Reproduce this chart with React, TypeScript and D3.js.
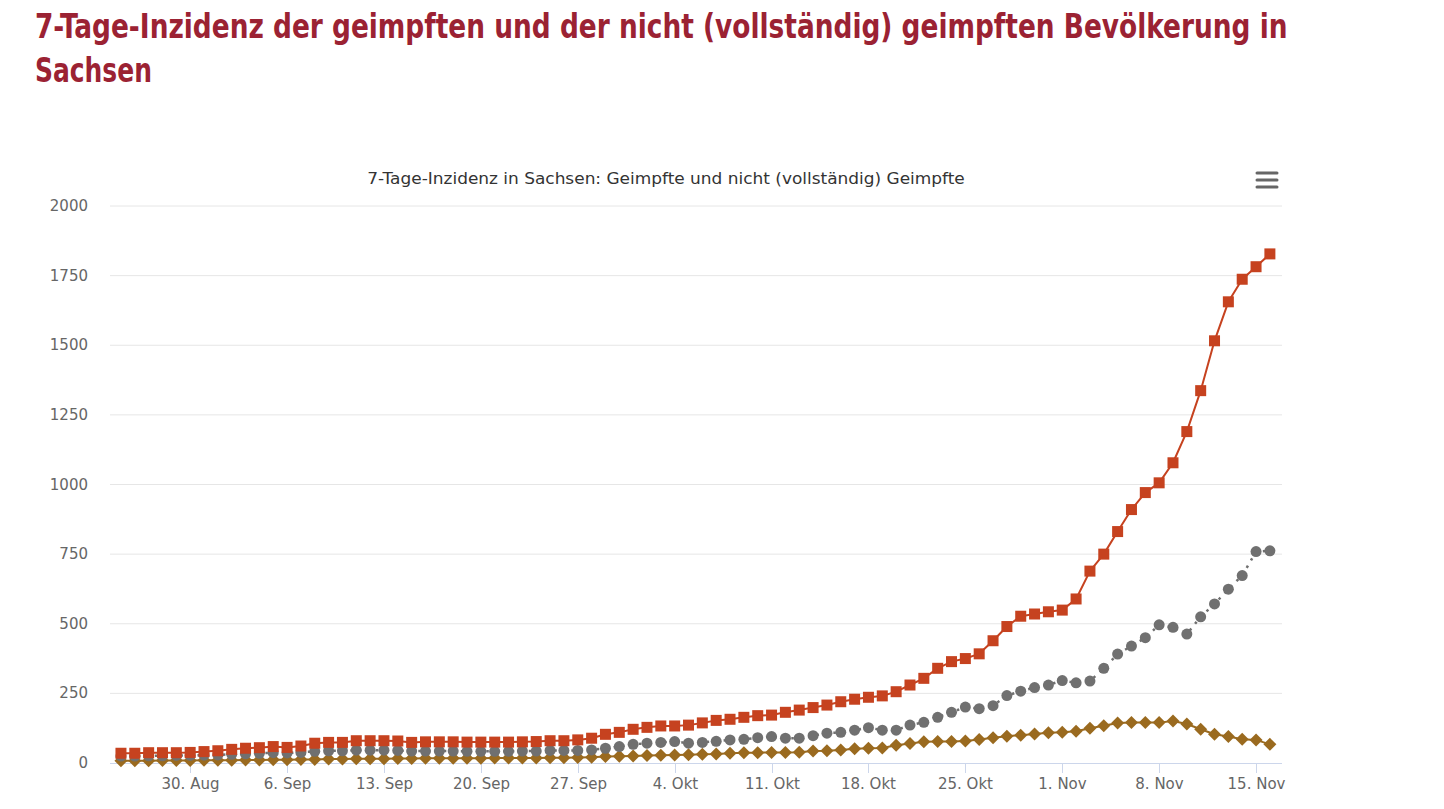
import React, { useLayoutEffect, useRef, useState } from "react";
import * as d3 from "d3";

// ---------- data ----------
const firstDay = "2021-08-25";
const dayCount = 84;

// 7-Tage-Inzidenz nicht (vollständig) geimpft (squares)
const ungeimpft = [35,35,37,37,37,38,41,44,49,53,55,59,56,61,71,74,74,80,80,80,79,
  74,76,76,76,75,75,75,75,76,77,
  80,80,83,89,103,110,121,128,133,133,136,
  144,153,157,164,170,172,182,190,199,208,220,229,236,241,256,280,304,340,364,375,392,439,490,527,535,543,549,589,
  689,750,831,910,971,1006,1078,1190,1337,1516,1656,1737,1782,1828];

// 7-Tage-Inzidenz gesamt (circles, dotted)
const gesamt = [25,25,26,26,27,27,28,29,31,
  33,35,37,36,38,
  42,44,44,46,46,46,45,43,
  43,43,43,42,42,42,42,43,43,45,45,45,
  47,53,59,67,71,74,77,71,74,78,
  83,85,91,95,89,89,98,107,110,118,127,118,118,136,146,
  164,182,201,195,206,242,258,271,280,296,288,294,340,391,420,450,496,487,463,525,571,624,673,759,762];

// 7-Tage-Inzidenz geimpft (diamonds)
const geimpft = [8,8,8,9,9,9,10,10,10,11,11,
  12,12,13,13,14,14,15,15,15,16,16,
  17,17,17,17,17,18,18,18,18,19,19,20,
  21,23,24,25,27,28,29,30,
  31,32,35,37,37,38,38,39,43,44,47,51,53,54,64,70,76,
  77,77,79,84,91,96,100,104,109,110,114,125,134,144,145,145,145,151,140,121,103,95,85,83,67];

const yTicks = [0, 250, 500, 750, 1000, 1250, 1500, 1750, 2000];
const xTickDates = ["2021-08-30","2021-09-06","2021-09-13","2021-09-20","2021-09-27","2021-10-04","2021-10-11","2021-10-18","2021-10-25","2021-11-01","2021-11-08","2021-11-15"];
const xTickLabels = ["30. Aug","6. Sep","13. Sep","20. Sep","27. Sep","4. Okt","11. Okt","18. Okt","25. Okt","1. Nov","8. Nov","15. Nov"];

const pageTitleLine1 = "7-Tage-Inzidenz der geimpften und der nicht (vollständig) geimpften Bevölkerung in";
const pageTitleLine2 = "Sachsen";
const chartTitle = "7-Tage-Inzidenz in Sachsen: Geimpfte und nicht (vollständig) Geimpfte";

// ---------- layout ----------
const W = 1444, H = 809;
const plot = { left: 110, right: 1282, top: 206, bottom: 763 };
const colors = { red: "#c6421f", gray: "#707070", brown: "#9a6a1f", title: "#9b2233" };
const titleFont = "'DejaVu Sans Condensed', 'Liberation Sans Narrow', 'Open Sans', sans-serif";
const axisFont = "'DejaVu Sans', 'Liberation Sans', sans-serif";

const parse = d3.utcParse("%Y-%m-%d");
const start = parse(firstDay) as Date;
const dates = d3.utcDay.range(start, d3.utcDay.offset(start, dayCount));

// text squeezed horizontally (via transform) to a target width
function FitText(props: { x: number; y: number; width: number; text: string; fontSize: number; fill: string; family: string; weight?: string; anchor?: string }) {
  const ref = useRef<SVGTextElement>(null);
  const [sx, setSx] = useState(1);
  useLayoutEffect(() => {
    if (ref.current) {
      const w = ref.current.getComputedTextLength();
      if (w > 0) setSx(props.width / w);
    }
  }, [props.text, props.width]);
  return (
    <text ref={ref} transform={`translate(${props.x},${props.y}) scale(${sx},1)`} x={0} y={0}
      fill={props.fill} fontSize={props.fontSize} fontWeight={props.weight || "normal"}
      fontFamily={props.family} textAnchor={props.anchor || "start"}>{props.text}</text>
  );
}

export default function App() {
  const x = d3.scaleUtc()
    .domain([d3.utcHour.offset(dates[0], -19), d3.utcHour.offset(dates[dates.length - 1], 21)])
    .range([plot.left, plot.right]);
  const y = d3.scaleLinear().domain([0, 2000]).range([plot.bottom, plot.top]);

  const line = (vals: number[]) =>
    d3.line<number>().x((_, i) => x(dates[i])).y((v) => y(v))(vals) || "";

  return (
    <svg width={W} height={H} style={{ position: "absolute", left: 0, top: 0, background: "#fff" }}
      xmlns="http://www.w3.org/2000/svg">
      <rect width={W} height={H} fill="#fff" />
      {/* page title */}
      <FitText x={35} y={38} width={1253} text={pageTitleLine1} fontSize={34} fill={colors.title} family={titleFont} weight="bold" />
      <FitText x={35} y={82} width={117} text={pageTitleLine2} fontSize={34} fill={colors.title} family={titleFont} weight="bold" />

      {/* chart title */}
      <FitText x={666} y={184} width={598} text={chartTitle} fontSize={16.5} fill="#333" family={axisFont} anchor="middle" />

      {/* hamburger menu */}
      <g stroke="#666" strokeWidth={3} strokeLinecap="round">
        {[173, 180, 187].map((yy) => <line key={yy} x1={1257} x2={1277} y1={yy} y2={yy} />)}
      </g>

      {/* grid + y labels */}
      {yTicks.map((t) => (
        <g key={t}>
          {t !== 0 && <line x1={plot.left} x2={plot.right} y1={y(t)} y2={y(t)} stroke="#e6e6e6" strokeWidth={1} />}
          <text x={88} y={y(t) + 5} textAnchor="end" fill="#666" fontSize={15} fontFamily={axisFont}>{t}</text>
        </g>
      ))}

      {/* x axis */}
      <line x1={plot.left} x2={plot.right} y1={plot.bottom + 0.5} y2={plot.bottom + 0.5} stroke="#ccd6eb" strokeWidth={1} />
      {xTickDates.map((d, i) => {
        const xx = Math.round(x(parse(d) as Date)) + 0.5;
        return (
          <g key={d}>
            <line x1={xx} x2={xx} y1={plot.bottom} y2={plot.bottom + 10} stroke="#ccd6eb" strokeWidth={1} />
            <text x={xx} y={789} textAnchor="middle" fill="#666" fontSize={15} fontFamily={axisFont}>{xTickLabels[i]}</text>
          </g>
        );
      })}

      {/* geimpft - diamonds */}
      <path d={line(geimpft)} fill="none" stroke={colors.brown} strokeWidth={2} strokeLinejoin="round" />
      {geimpft.map((v, i) => {
        const cx = x(dates[i]), cy = y(v);
        return <path key={i} d={`M${cx},${cy - 6.5}L${cx + 6.5},${cy}L${cx},${cy + 6.5}L${cx - 6.5},${cy}Z`} fill={colors.brown} />;
      })}

      {/* gesamt - circles, dotted */}
      <path d={line(gesamt)} fill="none" stroke={colors.gray} strokeWidth={2.5} strokeDasharray="2.5,6" />
      {gesamt.map((v, i) => (
        <circle key={i} cx={x(dates[i])} cy={y(v)} r={5.5} fill={colors.gray} />
      ))}

      {/* ungeimpft - squares */}
      <path d={line(ungeimpft)} fill="none" stroke={colors.red} strokeWidth={2} strokeLinejoin="round" />
      {ungeimpft.map((v, i) => (
        <rect key={i} x={x(dates[i]) - 5.5} y={y(v) - 5.5} width={11} height={11} fill={colors.red} />
      ))}
    </svg>
  );
}
